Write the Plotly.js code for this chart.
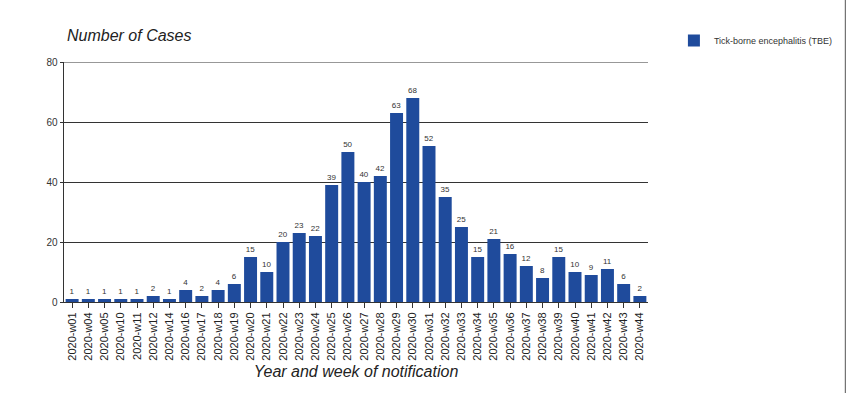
<!DOCTYPE html>
<html>
<head>
<meta charset="utf-8">
<script src="https://cdn.plot.ly/plotly-3.0.1.min.js"></script>
<style>
  html, body { margin: 0; padding: 0; background: #ffffff; }
  #chart { width: 850px; height: 393px; }
</style>
</head>
<body>
<div id="chart"></div>
<script>
const weeks = ["2020-w01","2020-w04","2020-w05","2020-w10","2020-w11","2020-w12","2020-w14","2020-w16","2020-w17","2020-w18","2020-w19","2020-w20","2020-w21","2020-w22","2020-w23","2020-w24","2020-w25","2020-w26","2020-w27","2020-w28","2020-w29","2020-w30","2020-w31","2020-w32","2020-w33","2020-w34","2020-w35","2020-w36","2020-w37","2020-w38","2020-w39","2020-w40","2020-w41","2020-w42","2020-w43","2020-w44"];
const cases = [1,1,1,1,1,2,1,4,2,4,6,15,10,20,23,22,39,50,40,42,63,68,52,35,25,15,21,16,12,8,15,10,9,11,6,2];
const seriesName = "Tick-borne encephalitis (TBE)";
const yTicks = [0,20,40,60,80];
const yMax = yTicks[yTicks.length - 1];

const trace = {
  type: 'bar',
  x: weeks,
  y: cases,
  name: seriesName,
  text: cases.map(String),
  textposition: 'outside',
  cliponaxis: false,
  textfont: {family: 'Arial, Liberation Sans, sans-serif', size: 8, color: '#333333'},
  outsidetextfont: {family: 'Arial, Liberation Sans, sans-serif', size: 8, color: '#333333'},
  marker: {color: '#1f4b9c', line: {width: 0}},
  showlegend: true
};

const layout = {
  width: 850,
  height: 393,
  paper_bgcolor: '#ffffff',
  plot_bgcolor: '#ffffff',
  margin: {l: 64, r: 200, t: 62, b: 91},
  bargap: 0.2,
  font: {family: 'Arial, Liberation Sans, sans-serif', color: '#333333'},
  title: {
    text: '<i>Number of Cases</i>',
    font: {size: 16, color: '#222222', family: 'Arial, Liberation Sans, sans-serif'},
    x: 67/850, xanchor: 'left', xref: 'container',
    y: 1 - 35/393, yanchor: 'middle', yref: 'container'
  },
  xaxis: {
    type: 'category',
    tickangle: -90,
    tickfont: {size: 11, color: '#222222'},
    ticks: 'outside', ticklen: 5, tickcolor: '#333333',
    showline: true, linecolor: '#333333', linewidth: 1,
    showgrid: false,
    title: {text: '<i>Year and week of notification</i>', font: {size: 16, color: '#222222'}, standoff: 6},
    automargin: false
  },
  yaxis: {
    range: [0, yMax],
    tickvals: yTicks,
    tickfont: {size: 10, color: '#333333'},
    ticks: 'outside', ticklen: 3, tickcolor: '#333333',
    showline: true, linecolor: '#333333', linewidth: 1.5,
    showgrid: true, gridcolor: '#333333', gridwidth: 1,
    zeroline: false,
    automargin: false
  },
  legend: {
    x: (676 - 64) / 586, xanchor: 'left',
    y: 1 + 36/240, yanchor: 'top',
    font: {size: 9, color: '#333333'},
    bgcolor: 'rgba(0,0,0,0)'
  },
  shapes: [
    {
      type: 'line', xref: 'paper', yref: 'y',
      x0: 0, x1: 1, y0: yMax, y1: yMax,
      line: {color: '#333333', width: 1}
    },
    {
      type: 'line', xref: 'paper', yref: 'paper',
      x0: (848 - 64) / 586, x1: (848 - 64) / 586,
      y0: -91/240, y1: 1 + 62/240,
      line: {color: '#555555', width: 1}
    }
  ]
};

Plotly.newPlot('chart', [trace], layout, {displayModeBar: false, staticPlot: true});
</script>
</body>
</html>
